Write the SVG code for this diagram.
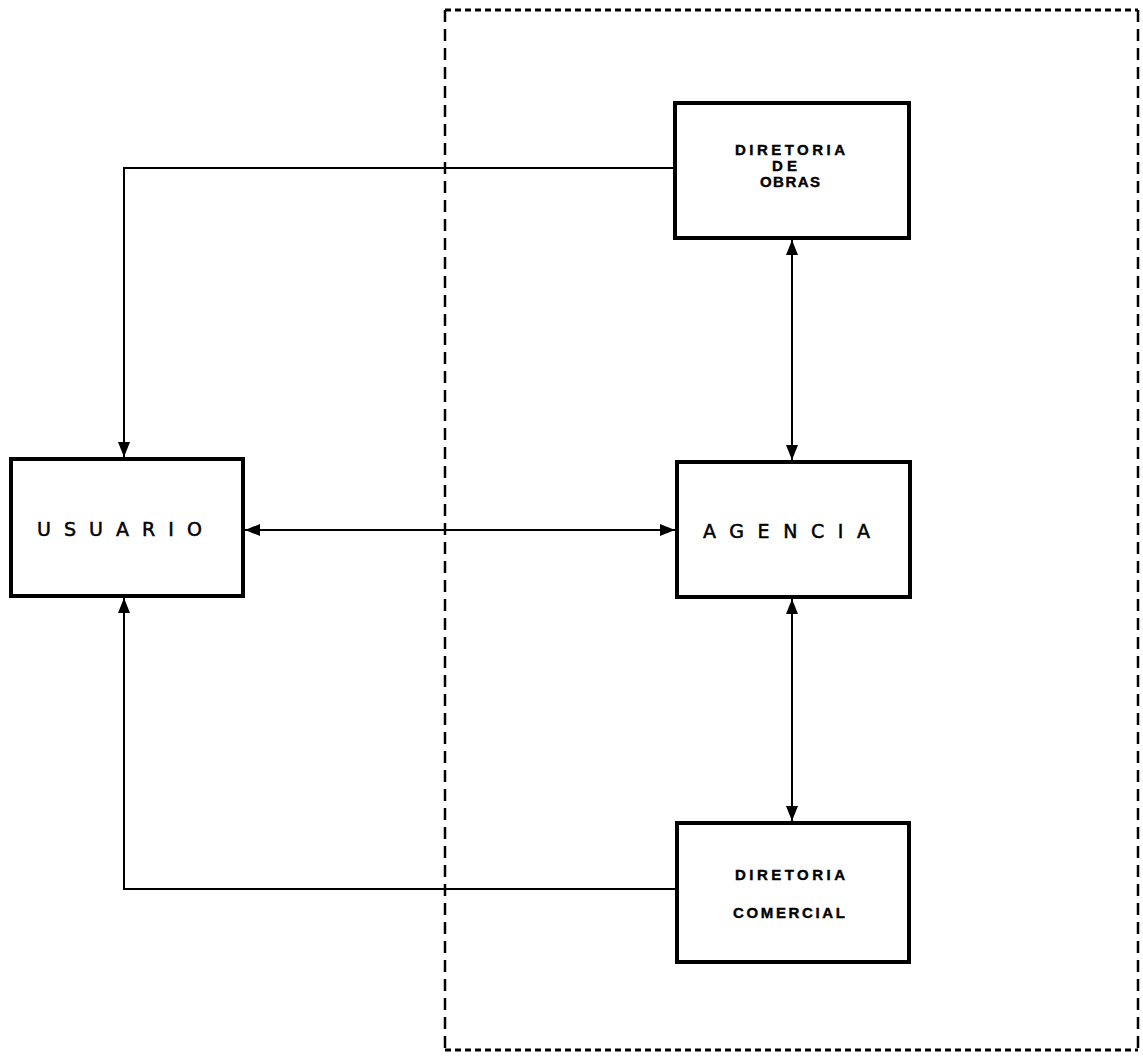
<svg xmlns="http://www.w3.org/2000/svg" width="1143" height="1058" viewBox="0 0 1143 1058">
<style>
.box{fill:#fff;stroke:#000;stroke-width:4}
.ln{fill:none;stroke:#000;stroke-width:2}
.dh{fill:none;stroke:#000;stroke-width:3;stroke-dasharray:6 4}
.dv{fill:none;stroke:#000;stroke-width:2.5;stroke-dasharray:12 7}
.sm{font-family:"Liberation Sans",Arial,sans-serif;font-weight:bold;font-size:15px;fill:#000;stroke:#000;stroke-width:0.4}
.lg{font-family:"DejaVu Sans",sans-serif;font-size:19px;fill:#000;stroke:#000;stroke-width:0.5}
</style>
<defs>
<marker id="ah" viewBox="0 0 10 10" refX="10" refY="5" markerWidth="15" markerHeight="15" markerUnits="userSpaceOnUse" orient="auto-start-reverse">
<path d="M0,1 L10,5 L0,9 z" fill="#000"/>
</marker>
</defs>
<g id="boundary">
<line class="dh" x1="445" y1="10" x2="1138" y2="10"/>
<line class="dh" x1="445" y1="1050" x2="1138" y2="1050"/>
<line class="dv" x1="445" y1="10" x2="445" y2="1050"/>
<line class="dv" x1="1138" y1="10" x2="1138" y2="1050"/>
</g>
<g id="connectors">
<polyline class="ln" points="675,168 124,168 124,457" marker-end="url(#ah)"/>
<polyline class="ln" points="677,889 124,889 124,598" marker-end="url(#ah)"/>
<line class="ln" x1="245" y1="530" x2="675" y2="530" marker-start="url(#ah)" marker-end="url(#ah)"/>
<line class="ln" x1="792" y1="240" x2="792" y2="460" marker-start="url(#ah)" marker-end="url(#ah)"/>
<line class="ln" x1="792" y1="599" x2="792" y2="821" marker-start="url(#ah)" marker-end="url(#ah)"/>
</g>
<g id="diretoria-obras">
<rect class="box" x="675" y="103" width="234" height="135"/>
<text class="sm" x="735" y="155" textLength="110" lengthAdjust="spacing">DIRETORIA</text>
<text class="sm" x="772" y="171" textLength="25" lengthAdjust="spacing">DE</text>
<text class="sm" x="760" y="187" textLength="60" lengthAdjust="spacing">OBRAS</text>
</g>
<g id="usuario">
<rect class="box" x="11" y="459" width="232" height="137"/>
<text class="lg" x="37" y="536" textLength="165" lengthAdjust="spacing">USUARIO</text>
</g>
<g id="agencia">
<rect class="box" x="677" y="462" width="233" height="135"/>
<text class="lg" x="703" y="538" textLength="167" lengthAdjust="spacing">AGENCIA</text>
</g>
<g id="diretoria-comercial">
<rect class="box" x="677" y="823" width="232" height="139"/>
<text class="sm" x="735" y="880" textLength="110" lengthAdjust="spacing">DIRETORIA</text>
<text class="sm" x="733" y="918" textLength="112" lengthAdjust="spacing">COMERCIAL</text>
</g>
</svg>
